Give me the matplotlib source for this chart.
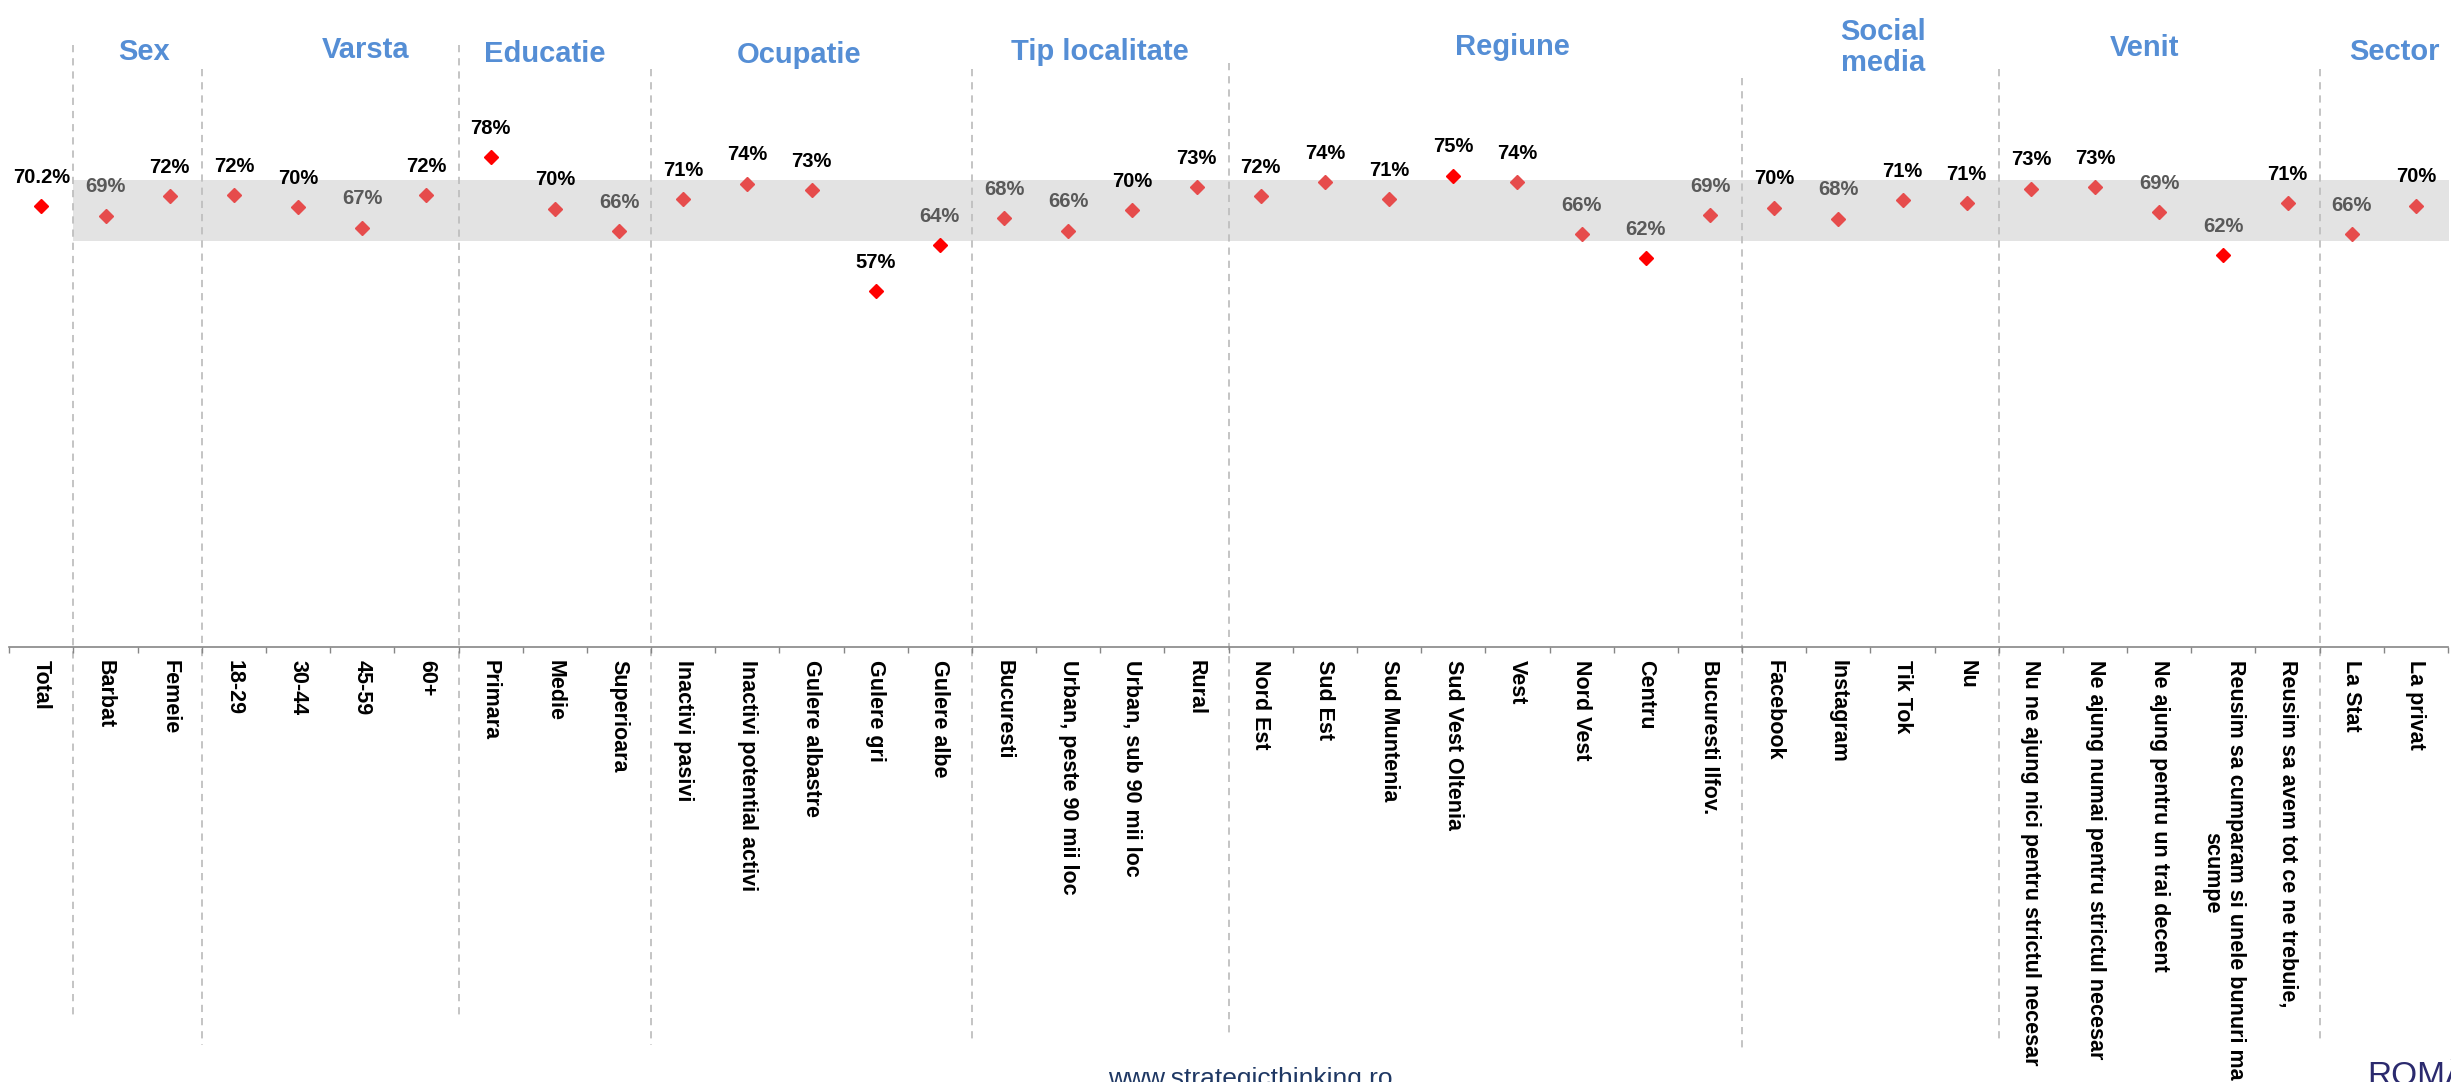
import numpy as np
import matplotlib
matplotlib.use("Agg")
import matplotlib.pyplot as plt
import matplotlib.transforms as mtransforms

plt.rcParams['font.family'] = ['Liberation Sans', 'DejaVu Sans']

# data
categories = ["Total", "Barbat", "Femeie", "18-29", "30-44", "45-59", "60+",
              "Primara", "Medie", "Superioara",
              "Inactivi pasivi", "Inactivi potential activi", "Gulere albastre", "Gulere gri", "Gulere albe",
              "Bucuresti", "Urban, peste 90 mii loc", "Urban, sub 90 mii loc", "Rural",
              "Nord Est", "Sud Est", "Sud Muntenia", "Sud Vest Oltenia", "Vest", "Nord Vest", "Centru",
              "Bucuresti Ilfov.",
              "Facebook", "Instagram", "Tik Tok", "Nu",
              "Nu ne ajung nici pentru strictul necesar", "Ne ajung numai pentru strictul necesar",
              "Ne ajung pentru un trai decent", "Reusim sa cumparam si unele bunuri mai\nscumpe",
              "Reusim sa avem tot ce ne trebuie,",
              "La Stat", "La privat"]
values = [0.702, 0.687, 0.718, 0.720, 0.701, 0.668, 0.720,
          0.780, 0.698, 0.662,
          0.713, 0.738, 0.728, 0.567, 0.640,
          0.683, 0.663, 0.696, 0.732,
          0.718, 0.740, 0.713, 0.751, 0.740, 0.657, 0.619, 0.688,
          0.700, 0.682, 0.712, 0.707,
          0.730, 0.732, 0.693, 0.624, 0.707,
          0.657, 0.703]
groups = ["Sex", "Varsta", "Educatie", "Ocupatie", "Tip localitate", "Regiune", "Social\nmedia", "Venit", "Sector"]
group_sizes = [2, 4, 3, 5, 4, 8, 4, 5, 2]
band_low, band_high = 0.647, 0.744

W, H = 2451, 1082
fig = plt.figure(figsize=(W / 100, H / 100), dpi=100)
ax = fig.add_axes([9.3 / W, 1 - 646.7 / H, (2448 - 9.3) / W, (646.7 - 19.3) / H])

x = np.arange(len(categories))
ax.set_xlim(-0.5, len(categories) - 0.5)
ax.set_ylim(0, 1)

# grey band around the total
ax.fill_between([0.5, len(categories) - 0.5 + 0.1], band_low, band_high, color='#E3E3E3', lw=0, zorder=0)

for i, v in enumerate(values):
    inside = band_low <= v < band_high and i > 0
    col = '#E64C4C' if inside else '#FF0000'
    ax.plot(x[i], v, marker='D', ms=7.5, color=col, mec=col, zorder=3, clip_on=False)
    pct = int(np.floor(v * 100 + 0.5))
    txt = f"{v*100:.1f}%" if i == 0 else f"{pct}%"
    tcol = '#000000' if (pct >= 70 or v < 0.6) else '#595959'
    ax.annotate(txt, (x[i], v), xytext=(0, 16.8), textcoords='offset points',
                ha='center', va='baseline', fontsize=14.5, fontweight='bold', color=tcol, zorder=4)

# axis styling
for s in ['top', 'left', 'right']:
    ax.spines[s].set_visible(False)
ax.spines['bottom'].set_color('#868686')
ax.spines['bottom'].set_linewidth(1.2)
ax.yaxis.set_visible(False)
ax.set_xticks(x)
ax.set_xticklabels(categories, rotation=270, fontsize=15.5, fontweight='bold', color='black')
ax.tick_params(axis='x', which='major', length=0, pad=9.5)
ax.set_xticks(np.arange(-0.5, len(categories), 1), minor=True)
ax.tick_params(axis='x', which='minor', length=4.5, width=1, color='#868686', direction='out')

# dashed separators between groups (top / bottom in pixels)
sep_extent = [(45, 1020), (69, 1045), (45, 1020), (69, 1045), (69, 1044),
              (63, 1038), (78, 1053), (69, 1043), (69, 1043)]
trans = mtransforms.blended_transform_factory(ax.transData, fig.transFigure)
bounds = np.cumsum([1] + group_sizes)[:-1]
for b, (t, btm) in zip(bounds, sep_extent):
    ax.plot([b - 0.5, b - 0.5], [1 - t / H, 1 - btm / H], transform=trans, clip_on=False,
            color='#BFBFBF', lw=1.3, linestyle=(0, (4.0, 3.3)), zorder=1)

# group headers (centre x, last-line baseline y in pixels)
header_pos = [(144, 60), (366, 58), (545, 62), (799, 63), (1100, 60),
              (1512, 55), (1883, 71), (2145, 56), (2394, 60)]
for g, (hx, hy) in zip(groups, header_pos):
    fig.text(hx / W, 1 - hy / H, g, ha='center', va='baseline', fontsize=21,
             fontweight='bold', color='#558ED5', linespacing=1.15)

fig.text(1250 / W, 1 - 1086 / H, "www.strategicthinking.ro", ha='center', va='baseline',
         fontsize=19, color='#1F3864')
fig.text(2367 / W, 1 - 1085 / H, "ROMÂNIA", ha='left', va='baseline',
         fontsize=24, color='#2B2A6E')

fig.savefig("out.png", dpi=100)
